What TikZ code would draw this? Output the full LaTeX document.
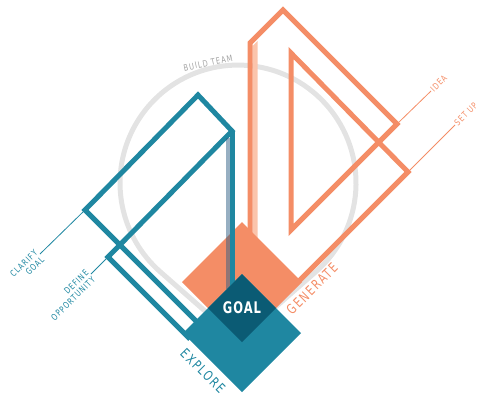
\documentclass[tikz,border=0pt]{standalone}
\usepackage{fontspec}
\newfontfamily\diafont{DejaVu Sans Condensed}[FakeStretch=0.85, LetterSpace=12]
\newfontfamily\goalfont{DejaVu Sans Condensed}[FakeStretch=0.8, LetterSpace=6]
\usepackage{tikz}
\usetikzlibrary{shapes.geometric, positioning, calc}

\definecolor{genorange}{HTML}{F48D66}
\definecolor{genlight}{HTML}{FBC4AB}
\definecolor{exteal}{HTML}{1F87A1}
\definecolor{goaldark}{HTML}{0B5B74}
\definecolor{ringgray}{HTML}{E3E3E3}
\definecolor{teamgray}{HTML}{A3A3A3}
\definecolor{tealshade}{HTML}{2F5F85}

\tikzset{
  path line/.style={line width=5pt, line join=miter},
  label line/.style={line width=0.8pt},
  square/.style={diamond, minimum width=#1, minimum height=#1, inner sep=0pt, outer sep=0pt},
  small label/.style={font=\diafont\fontsize{8.8}{9.5}\selectfont, inner sep=1pt},
  big label/.style={font=\diafont\fontsize{13.5}{14}\selectfont},
}

\begin{document}
\begin{tikzpicture}[x=1pt, y=-1pt]
    \useasboundingbox (0,0) rectangle (477,399);

    % Pin outline
    \coordinate (pin tip) at (238,340);
    \coordinate (pin right) at (315.9,271.7);
    \draw[ringgray, line width=5pt] (pin tip) -- (pin right)
        arc[start angle=-48.7, end angle=228.7, radius=118pt] -- cycle;

    % Corners
    \coordinate (tclar) at (85,210);
    \coordinate (ttop) at (198,95);
    \coordinate (tright) at (232,131);
    \coordinate (tdef) at (108,257);
    \coordinate (tout) at (203,328);
    \coordinate (tin) at (190,339);
    \coordinate (tvbot) at (232,292);
    \coordinate (ovbot) at (250,250);
    \coordinate (oleft) at (250,43);
    \coordinate (otop) at (283,10);
    \coordinate (oidea) at (397,124);
    \coordinate (oinner) at (291,230);
    \coordinate (oitop) at (291,53);
    \coordinate (osetup) at (408,172);
    \coordinate (oend) at (292,288);

    % Ribbons
    \fill[genlight] (252.5,46) -- (257.5,41) -- (257.5,240) -- (252.5,240) -- cycle;
    \draw[path line, genorange] (ovbot) -- (oleft) -- (otop) -- (oidea) -- (oinner)
        -- (oitop) -- (osetup) -- (oend);
    \draw[path line, exteal] (tout) -- (tclar) -- (ttop) -- (tright) -- (tdef) -- (tin);

    % Squares
    \node[square=120pt, fill=genorange] (gen) at (242,282) {};
    \draw[path line, exteal] (tright) -- (tvbot);
    \draw[line width=4pt, tealshade, opacity=.5] (227.5,138) -- (227.5,289);
    \node[square=118pt, fill=exteal] (explore) at (242,333) {};
    \node[square=68pt, fill=goaldark, text=white, font=\goalfont\bfseries\fontsize{16}{16}\selectfont] (goal) at (242,308) {GOAL};

    % Labels
    \node[big label, text=genorange, rotate=45] (genlbl) at (312,289) {GENERATE};
    \node[big label, text=exteal, rotate=-45] (explbl) at (203,371) {EXPLORE};
    \node[small label, text=teamgray, rotate=12] (teamlbl) at (208,63) {BUILD TEAM};
    \node[small label, text=exteal, rotate=45, align=right, anchor=east] (clarlbl) at (40,254) {CLARIFY\\GOAL};
    \node[small label, text=exteal, rotate=45, align=right, anchor=east] (deflbl) at (91,274) {DEFINE\\OPPORTUNITY};
    \node[small label, text=genorange, rotate=45, anchor=west] (idealbl) at (431,91) {IDEA};
    \node[small label, text=genorange, rotate=45, anchor=west] (setuplbl) at (455,125) {SET UP};
    \draw[label line, exteal] (tclar) -- (clarlbl.east);
    \draw[label line, exteal] (tdef) -- (deflbl.east);
    \draw[label line, genorange] (oidea) -- (idealbl.west);
    \draw[label line, genorange] (osetup) -- (setuplbl.west);
\end{tikzpicture}
\end{document}
